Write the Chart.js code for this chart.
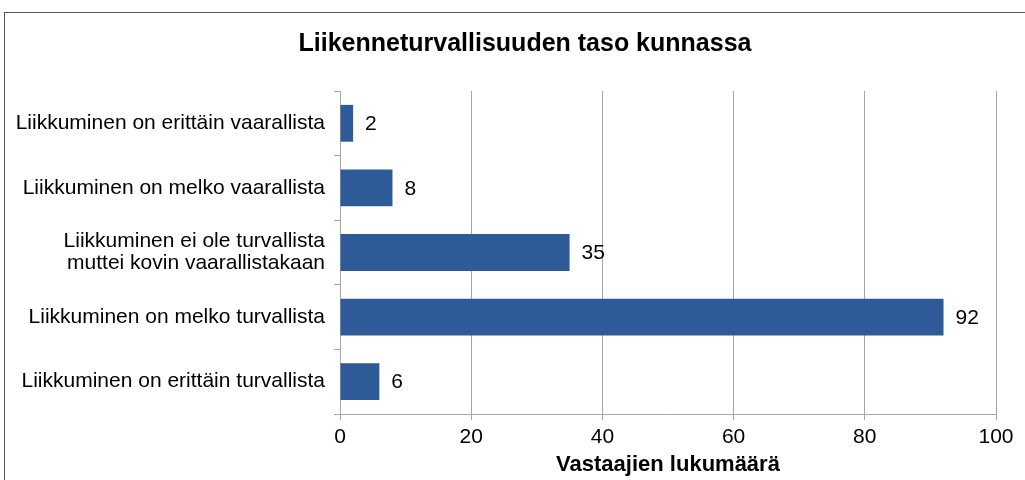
<!DOCTYPE html>
<html>
<head>
<meta charset="utf-8">
<script src="https://cdn.jsdelivr.net/npm/chart.js@4"></script>
<style>
    body { margin: 0; background: #fff; }
    #wrap { position: relative; width: 1025px; height: 480px; overflow: hidden; }
    #frame { position: absolute; left: 4px; top: 12px; width: 1040px; height: 500px; border: 1px solid #555; }
    #chartBars { position: absolute; left: 0; top: 0; }
</style>
</head>
<body>
<div id="wrap">
    <div id="frame"></div>
    <canvas id="chartBars" width="1025" height="480"></canvas>
</div>
<script>
    const chartTitle = "Liikenneturvallisuuden taso kunnassa";
    const categories = [
        "Liikkuminen on erittäin vaarallista",
        "Liikkuminen on melko vaarallista",
        ["Liikkuminen ei ole turvallista", "muttei kovin vaarallistakaan"],
        "Liikkuminen on melko turvallista",
        "Liikkuminen on erittäin turvallista"
    ];
    const answers = [2, 8, 35, 92, 6];
    const xTicks = [0, 20, 40, 60, 80, 100];

    const fontFamily = "'Liberation Sans', Arial, sans-serif";

    // title over the whole frame + value labels at the end of each bar
    const extraText = {
        id: "extraText",
        afterDraw(chart) {
            const ctx = chart.ctx;
            ctx.save();
            ctx.fillStyle = "#000";
            ctx.textBaseline = "middle";

            ctx.font = "bold 25px " + fontFamily;
            ctx.textAlign = "center";
            ctx.fillText(chartTitle, 525, 44);

            ctx.font = "21px " + fontFamily;
            ctx.textAlign = "left";
            const meta = chart.getDatasetMeta(0);
            meta.data.forEach((bar, i) => {
                ctx.fillText(String(answers[i]), bar.x + 12, bar.y + 1);
            });
            ctx.restore();
        }
    };

    const chart = new Chart(document.getElementById("chartBars").getContext("2d"), {
        type: "bar",
        data: {
            labels: categories,
            datasets: [
                {
                    data: answers,
                    backgroundColor: "#2E5B98",
                    borderWidth: 0,
                    categoryPercentage: 1,
                    barPercentage: 0.57
                }
            ]
        },
        options: {
            indexAxis: "y",
            responsive: false,
            animation: false,
            layout: { padding: { left: 0, right: 29, top: 91, bottom: 0 } },
            plugins: {
                legend: { display: false },
                tooltip: { enabled: false },
                title: { display: false }
            },
            scales: {
                x: {
                    min: 0,
                    max: 100,
                    afterBuildTicks(scale) {
                        scale.ticks = xTicks.map(v => ({ value: v }));
                    },
                    afterFit(scale) { scale.height = 66; },
                    grid: { color: "#a6a6a6", lineWidth: 1, tickLength: 6 },
                    border: { color: "#a6a6a6" },
                    ticks: {
                        color: "#000",
                        padding: 5,
                        font: { family: fontFamily, size: 21, lineHeight: 1.2 }
                    },
                    title: {
                        display: true,
                        text: "Vastaajien lukumäärä",
                        color: "#000",
                        padding: { top: 0, bottom: 2 },
                        font: { family: fontFamily, size: 22, weight: "bold", lineHeight: 1.2 }
                    }
                },
                y: {
                    afterFit(scale) { scale.width = 340; },
                    grid: { drawOnChartArea: false, color: "#a6a6a6", tickLength: 6 },
                    border: { color: "#a6a6a6" },
                    ticks: {
                        color: "#000",
                        padding: 9,
                        font: { family: fontFamily, size: 21, lineHeight: 1.05 }
                    }
                }
            }
        },
        plugins: [extraText]
    });
</script>
</body>
</html>
